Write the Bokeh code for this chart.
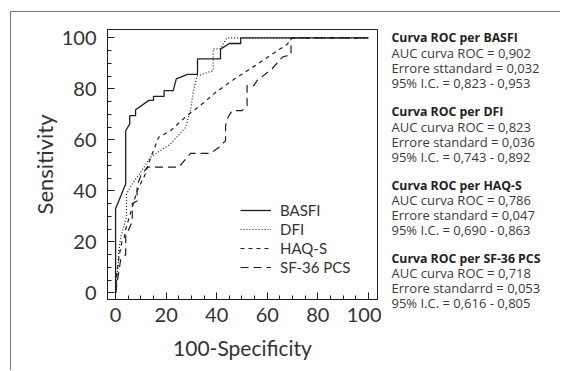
from bokeh.plotting import figure
from bokeh.layouts import row
from bokeh.models import Range1d, FixedTicker, Legend, LegendItem
from bokeh.core.properties import value
from bokeh.embed import file_html
from bokeh.resources import INLINE

# ---- data ----
basfi_x = [0, 0, 4, 4, 5.6, 5.6, 7.9, 7.9, 13.2, 15, 15, 19.2, 19.2, 22.8, 24, 28.5, 32.4, 32.4,
           41.5, 41.5, 45, 49.5, 49.5, 100]
basfi_y = [0, 33, 42.7, 63.6, 66.3, 69.5, 69.5, 71.8, 75.5, 75.5, 77.1, 77.1, 79.3, 79.3, 83.9,
           85.7, 85.7, 91.8, 91.8, 95.6, 97.8, 97.8, 100, 100]

dfi_x = [0, 0.7, 1.3, 2, 3.5, 4.3, 4.3, 6.6, 9.9, 13.8, 21.7, 27.7, 29.6, 30.7, 32.2, 38.6, 38.6,
         41.5, 44, 100]
dfi_y = [0, 7.5, 16, 21.8, 27, 30, 38.8, 42.7, 47.3, 53.2, 58.4, 64.9, 71.5, 78.7, 85, 87.2, 95.7,
         95.7, 100, 100]

haq_x = [0, 0.5, 1.5, 2.5, 3.5, 4, 5.5, 7, 8.5, 10, 11.5, 13.5, 17, 21.7, 28, 35, 40, 48, 55, 62,
         68, 69.5, 100]
haq_y = [0, 8, 15, 20, 22, 25, 30, 35, 40, 43, 46, 52, 61, 63.6, 69.3, 74.7, 79, 84.5, 89, 93.7,
         97.6, 100, 100]

sf_x = [0, 2, 4, 4, 6.6, 6.6, 8.5, 8.5, 10, 12.5, 25, 29.6, 37.5, 40.8, 43.5, 43.5, 44.5, 46.1, 50,
        52, 52, 54.7, 56, 62, 66, 69.4, 69.4, 100]
sf_y = [0, 13, 15, 22, 28, 35, 36, 42, 46, 49.3, 49.3, 54.7, 54.7, 57, 59.7, 65.6, 68.9, 71.5, 71.5,
        73.4, 81.3, 81.3, 83.3, 88, 92.5, 93.5, 100, 100]

series_names = ["BASFI", "DFI", "HAQ-S", "SF-36 PCS"]

stat_titles = ["Curva ROC per BASFI", "Curva ROC per DFI", "Curva ROC per HAQ-S",
               "Curva ROC per SF-36 PCS"]
stat_auc = ["AUC curva ROC = 0,902", "AUC curva ROC = 0,823", "AUC curva ROC = 0,786",
            "AUC curva ROC = 0,718"]
stat_se = ["Errore sttandard = 0,032", "Errore standard = 0,036", "Errore standard = 0,047",
           "Errore standarrd = 0,053"]
stat_ci = ["95% I.C. = 0,823 - 0,953", "95% I.C. = 0,743 - 0,892", "95% I.C. = 0,690 - 0,863",
           "95% I.C. = 0,616 - 0,805"]

x_ticks = [0, 20, 40, 60, 80, 100]
y_ticks = [0, 20, 40, 60, 80, 100]
minor = list(range(0, 101, 5))

# ---- layout ----
X0, X1 = -3.2, 103.6
Y0, Y1 = -2.6, 103.3
FONT = "Lato"
TFONT = "Open Sans"
INK = "#1e1e1e"
TXT = "#333333"
H = 358          # height of both panels
RW = 179         # width of the statistics panel

p = figure(frame_width=270, frame_height=270, min_border_left=96, min_border_top=17,
           min_border_right=4, min_border_bottom=H - 17 - 270, title=None,
           x_range=Range1d(X0, X1), y_range=Range1d(Y0, Y1),
           output_backend="svg", toolbar_location=None,
           background_fill_color="white", border_fill_color="white")
p.grid.visible = False
p.outline_line_color = INK
p.outline_line_width = 1

for ax, ticks in ((p.xaxis, x_ticks), (p.yaxis, y_ticks)):
    ax.ticker = FixedTicker(ticks=ticks, minor_ticks=minor)
    ax.major_tick_in = 7
    ax.major_tick_out = 0
    ax.minor_tick_in = 4
    ax.minor_tick_out = 0
    ax.axis_line_color = INK
    ax.major_tick_line_color = INK
    ax.minor_tick_line_color = INK
    ax.major_label_text_font = FONT
    ax.major_label_text_font_size = "20px"
    ax.major_label_text_color = TXT
    ax.axis_label_text_font = FONT
    ax.axis_label_text_font_style = "normal"
    ax.axis_label_text_color = TXT

p.xaxis.axis_label = "100-Specificity"
p.yaxis.axis_label = "Sensitivity"
p.xaxis.axis_label_text_font_size = "21px"
p.yaxis.axis_label_text_font_size = "22px"
p.xaxis.major_label_standoff = 8
p.yaxis.major_label_standoff = 11
p.xaxis.axis_label_standoff = 10
p.yaxis.axis_label_standoff = 1

r1 = p.line(basfi_x, basfi_y, line_color=INK, line_width=1.3)
r2 = p.line(dfi_x, dfi_y, line_color=INK, line_width=1.2, line_dash="1 2")
r3 = p.line(haq_x, haq_y, line_color=INK, line_width=1.2, line_dash="4 4")
r4 = p.line(sf_x, sf_y, line_color=INK, line_width=1.2, line_dash="8 5")

legend = Legend(items=[LegendItem(label=n, renderers=[r]) for n, r in
                       zip(series_names, [r1, r2, r3, r4])],
                location=(133, 23), padding=0, margin=0, spacing=1,
                glyph_width=31, glyph_height=18, label_height=18, label_standoff=9,
                border_line_alpha=0, background_fill_alpha=0,
                label_text_font=FONT, label_text_font_size="15px", label_text_color=TXT)
p.add_layout(legend)

# ---- statistics text panel on the right (coordinates in panel pixels) ----
p2 = figure(frame_width=RW, frame_height=H, x_range=Range1d(0, RW), y_range=Range1d(H, 0),
            min_border=0, x_axis_type=None, y_axis_type=None, title=None,
            output_backend="svg", toolbar_location=None,
            outline_line_color=None, background_fill_color="white",
            border_fill_color="white")
p2.grid.visible = False

block_top = [8, 82.3, 155.7, 228.5]
line_gap = 15
p2.text(x=[10] * 4, y=block_top, text=stat_titles, text_baseline="middle",
        text_font=value(TFONT), text_font_size=value("12.3px"), text_font_style="bold",
        text_color="#222222")
for k, col in enumerate([stat_auc, stat_se, stat_ci], start=1):
    p2.text(x=[10] * 4, y=[t + k * line_gap for t in block_top], text=col,
            text_baseline="middle", text_font=value(TFONT), text_font_size=value("13px"),
            text_color="#3a3a3a")

layout = row(p, p2, margin=(11, 0, 0, 10),
             styles={"border-top": "1px solid #7a7a7a", "border-left": "1px solid #7a7a7a"})

open("out.html", "w").write(file_html(layout, INLINE))
